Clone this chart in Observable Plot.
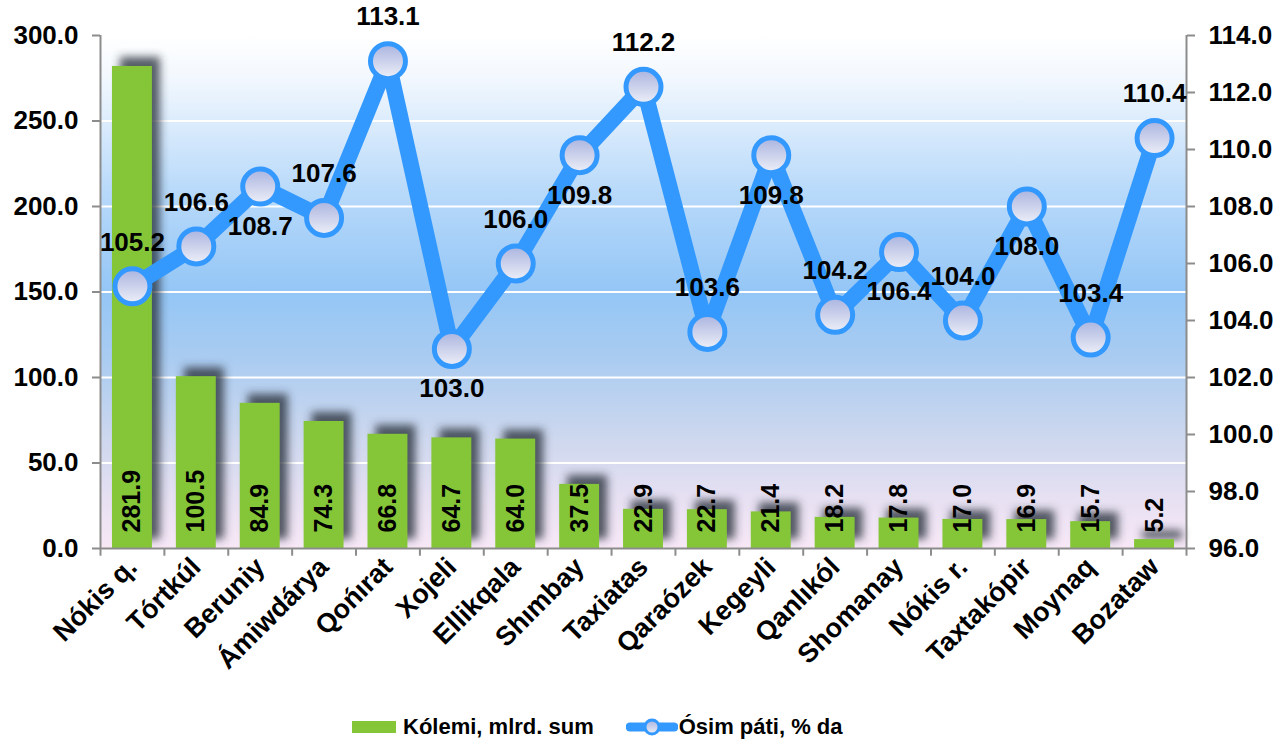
<!DOCTYPE html>
<html><head><meta charset="utf-8">
<script src="https://cdn.jsdelivr.net/npm/d3@7"></script>
<script src="https://cdn.jsdelivr.net/npm/@observablehq/plot@0.6"></script>
<style>
body{margin:0;background:#fff;font-family:"Liberation Sans",Arial,sans-serif;}
#chart{position:relative;width:1280px;height:739px;overflow:hidden;}
#legend{position:absolute;top:714px;left:352px;height:26px;display:flex;align-items:center;font-weight:bold;font-size:22px;color:#000;white-space:nowrap;}
#legend .sw{width:44px;height:12px;background:#85c638;margin-right:7px;}
#legend svg{margin-left:32px;margin-right:1px;}
</style></head><body>
<svg width="0" height="0" style="position:absolute">
<defs>
<linearGradient id="bg" x1="0" y1="0" x2="0" y2="1">
<stop offset="0" stop-color="#ffffff"/>
<stop offset="0.08" stop-color="#f3f8fe"/>
<stop offset="0.3" stop-color="#b9dafa"/>
<stop offset="0.5" stop-color="#94c6f6"/>
<stop offset="0.62" stop-color="#a8cbf1"/>
<stop offset="0.78" stop-color="#ccd7ee"/>
<stop offset="0.9" stop-color="#e6e0f2"/>
<stop offset="1" stop-color="#f8e8f6"/>
</linearGradient>
<linearGradient id="mk" x1="0" y1="0" x2="0" y2="1">
<stop offset="0" stop-color="#a9b3df"/>
<stop offset="1" stop-color="#eef0f8"/>
</linearGradient>
<filter id="blur" x="-50%" y="-50%" width="200%" height="200%"><feGaussianBlur stdDeviation="4"/></filter>
</defs></svg>
<div id="chart"><div id="legend"><div class="sw"></div><span>Kólemi, mlrd. sum</span><svg width="52" height="22"><line x1="4" y1="11" x2="48" y2="11" stroke="#3399ff" stroke-width="9" stroke-linecap="round"/><circle cx="26" cy="11" r="7" fill="url(#mk)" stroke="#3399ff" stroke-width="3"/></svg><span>Ósim páti, % da</span></div></div>
<script>
const names = ["Nókis q.","Tórtkúl","Beruniy","Ámiwdárya","Qońırat","Xojeli","Ellikqala","Shımbay","Taxiatas","Qaraózek","Kegeyli","Qanlıkól","Shomanay","Nókis r.","Taxtakópir","Moynaq","Bozataw"];
const volume = [281.9,100.5,84.9,74.3,66.8,64.7,64.0,37.5,22.9,22.7,21.4,18.2,17.8,17.0,16.9,15.7,5.2];
const growth = [105.2,106.6,108.7,107.6,113.1,103.0,106.0,109.8,112.2,103.6,109.8,104.2,106.4,104.0,108.0,103.4,110.4];
const leftTicks = [0,50,100,150,200,250,300];
const rightTicks = [96,98,100,102,104,106,108,110,112,114];
const labelsBelow = ["Beruniy","Xojeli","Shımbay","Kegeyli","Shomanay","Taxtakópir"];

const W = 1280, H = 700, ML = 100, MR = 94, MT = 35, MB = 152;
const step = (W - ML - MR) / names.length;
const toLeft = v => (v - 96) * 300 / 18;
const fromLeft = v => v * 18 / 300 + 96;
const rows = names.map((n, i) => ({name: n, vol: volume[i], g: growth[i]}));
const axisColor = "#8c8c8c";

const plot = Plot.plot({
  width: W, height: H, marginLeft: ML, marginRight: MR, marginTop: MT, marginBottom: MB,
  style: {fontFamily: "'Liberation Sans', Arial, sans-serif", fontWeight: "bold", fontSize: "26px", color: "#000", background: "transparent", overflow: "visible"},
  x: {domain: names, paddingInner: 0.375, paddingOuter: 0.1875, round: false, label: null},
  y: {domain: [0, 300], label: null},
  marks: [
    Plot.frame({fill: "url(#bg)", stroke: "none"}),
    Plot.ruleY(leftTicks.filter(t => t > 0 && t < 300), {stroke: "#ffffff", strokeWidth: 2}),
    Plot.barY(rows, {x: "name", y: "vol", fill: "#2a3240", fillOpacity: 0.8, dx: 8, dy: -9}),
    Plot.barY(rows, {x: "name", y: "vol", fill: "#85c638"}),
    Plot.ruleY([0], {stroke: axisColor, strokeWidth: 2}),
    Plot.ruleX([names[0]], {x: d => d, y1: 0, y2: 300, dx: -step / 2, stroke: axisColor, strokeWidth: 2}),
    Plot.ruleX([names[names.length - 1]], {x: d => d, y1: 0, y2: 300, dx: step / 2, stroke: axisColor, strokeWidth: 2}),
    Plot.ruleX(names, {x: d => d, y1: 0, y2: -4.5, dx: -step / 2, stroke: axisColor, strokeWidth: 2}),
    Plot.ruleX([names[names.length - 1]], {x: d => d, y1: 0, y2: -4.5, dx: step / 2, stroke: axisColor, strokeWidth: 2}),
    Plot.text(rows, {x: "name", y: 0, text: d => d.vol.toFixed(1), rotate: -90, textAnchor: "start", dy: -16, fontSize: 25, fill: "#000"}),
    Plot.line(rows, {x: "name", y: d => toLeft(d.g), stroke: "#3399ff", strokeWidth: 16, strokeLinejoin: "round"}),
    Plot.dot(rows, {x: "name", y: d => toLeft(d.g), r: 17.5, stroke: "#3399ff", strokeWidth: 5, fill: "url(#mk)"}),
    Plot.text(rows, {filter: d => !labelsBelow.includes(d.name), x: "name", y: d => toLeft(d.g), text: d => d.g.toFixed(1), dy: -44, fontSize: 26, fill: "#000"}),
    Plot.text(rows, {filter: d => labelsBelow.includes(d.name), x: "name", y: d => toLeft(d.g), text: d => d.g.toFixed(1), dy: 40, fontSize: 26, fill: "#000"}),
    Plot.axisY({ticks: leftTicks, tickFormat: d => d.toFixed(1), tickSize: 8, tickPadding: 14, fontSize: 26, stroke: axisColor, strokeWidth: 2, fill: "#000", label: null}),
    Plot.axisY({anchor: "right", ticks: rightTicks.map(toLeft), tickFormat: d => fromLeft(d).toFixed(1), tickSize: 8, tickPadding: 14, fontSize: 26, stroke: axisColor, strokeWidth: 2, fill: "#000", label: null}),
    Plot.axisX({tickRotate: -45, tickSize: 0, tickPadding: 14, fontSize: 27, fill: "#000", label: null})
  ]
});
d3.select(plot).selectAll('g[aria-label="bar"]').filter((d, i) => i === 0).attr("filter", "url(#blur)");
document.getElementById("chart").prepend(plot);
</script>
</body></html>
